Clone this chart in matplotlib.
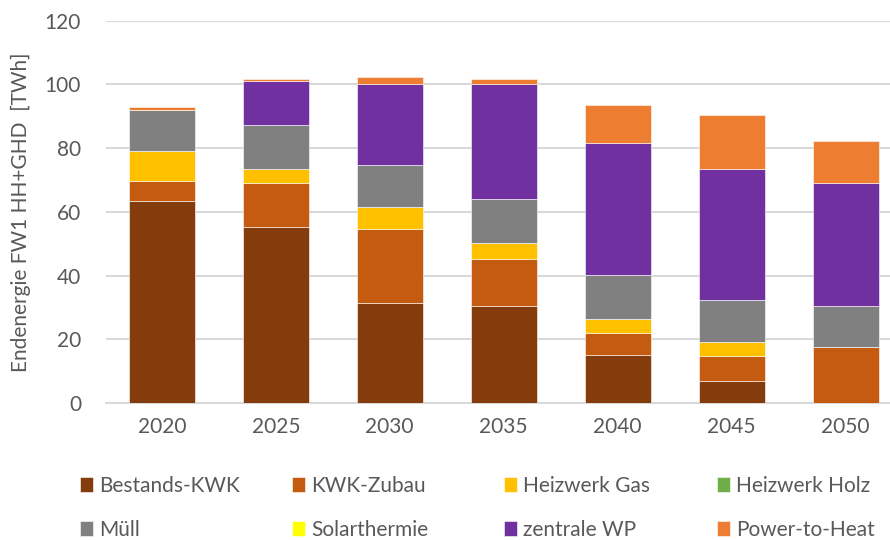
import numpy as np
import matplotlib.pyplot as plt

plt.rcParams['font.family'] = ['Lato', 'DejaVu Sans']

# data (TWh)
years = ['2020', '2025', '2030', '2035', '2040', '2045', '2050']
bestands_kwk = [63.4, 55.3, 31.5, 30.3, 15.2, 7.0, 0.0]
kwk_zubau = [6.2, 13.7, 23.1, 14.9, 6.8, 7.6, 17.7]
heizwerk_gas = [9.5, 4.4, 6.9, 5.1, 4.5, 4.4, 0.0]
heizwerk_holz = [0.0, 0.0, 0.0, 0.0, 0.0, 0.0, 0.0]
muell = [13.0, 13.8, 13.2, 13.7, 13.8, 13.2, 12.7]
solarthermie = [0.0, 0.0, 0.0, 0.0, 0.0, 0.0, 0.0]
zentrale_wp = [0.0, 13.8, 25.5, 36.2, 41.2, 41.2, 38.6]
power_to_heat = [0.7, 0.6, 2.0, 1.4, 11.9, 16.9, 13.1]

series = [
    ('Bestands-KWK', bestands_kwk, '#843C0C'),
    ('KWK-Zubau', kwk_zubau, '#C55A11'),
    ('Heizwerk Gas', heizwerk_gas, '#FFC000'),
    ('Heizwerk Holz', heizwerk_holz, '#70AD47'),
    ('Müll', muell, '#808080'),
    ('Solarthermie', solarthermie, '#FFFF00'),
    ('zentrale WP', zentrale_wp, '#7030A0'),
    ('Power-to-Heat', power_to_heat, '#ED7D31'),
]

txt = '#595959'
fs = 15

fig = plt.figure(figsize=(8.9, 5.4), dpi=100)
ax = fig.add_axes([106 / 890, 1 - 403 / 540, 1 - 106 / 890, (403 - 20.7) / 540])

x = np.arange(len(years))
bottom = np.zeros(len(years))
handles = []
for name, vals, col in series:
    vals = np.array(vals)
    b = ax.bar(x, vals, 0.58, bottom=bottom, color=col, label=name,
               edgecolor='white', linewidth=0.4, zorder=3)
    handles.append(b)
    bottom += vals

ax.set_ylim(0, 120)
ax.set_xlim(-0.49, 6.39)
ax.set_yticks(range(0, 121, 20))
ax.set_xticks(x, years)
ax.grid(axis='y', color='#d9d9d9', linewidth=1.5, zorder=0)
for s in ['top', 'right', 'left']:
    ax.spines[s].set_visible(False)
ax.spines['bottom'].set_color('#d9d9d9')
ax.spines['bottom'].set_linewidth(1.5)
ax.tick_params(axis='both', length=0, labelsize=fs, labelcolor=txt)
ax.tick_params(axis='x', pad=10)
ax.tick_params(axis='y', pad=18)
ax.set_ylabel('Endenergie FW1 HH+GHD  [TWh]', fontsize=fs, color=txt, labelpad=10)

# legend: 4 equal-width columns, row-major order like the original
col_x = [70, 282, 494, 707]
for i, cx in enumerate(col_x):
    hs = [handles[i], handles[i + 4]]
    fig.legend(hs, [series[i][0], series[i + 4][0]], loc='center left',
               bbox_to_anchor=(cx / 890, 1 - 508 / 540), ncol=1,
               frameon=False, fontsize=fs, labelcolor=txt,
               handlelength=0.6, handleheight=0.7, handletextpad=0.3,
               labelspacing=1.15, borderpad=0)

fig.savefig('out.png', dpi=100)
